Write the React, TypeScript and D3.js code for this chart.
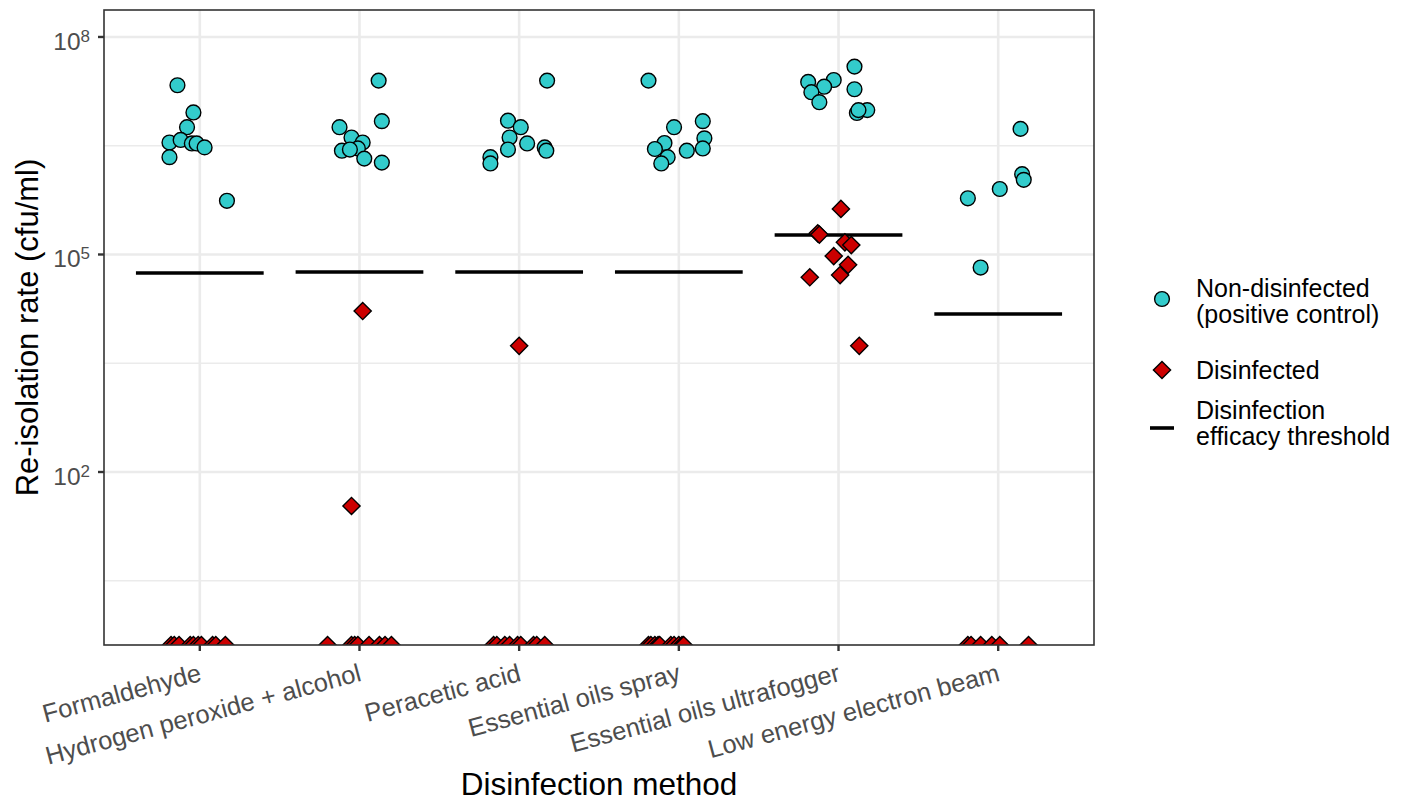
import React from "react";
import * as d3 from "d3";

// categories on the x axis
const methods = [
  "Formaldehyde",
  "Hydrogen peroxide + alcohol",
  "Peracetic acid",
  "Essential oils spray",
  "Essential oils ultrafogger",
  "Low energy electron beam",
];

// non-disinfected (positive control), cfu/ml, one list per method
const controlCfu = [
  [2.16e7, 9.1e6, 5.7e6, 3.5e6, 3.8e6, 3.4e6, 3.4e6, 3.0e6, 2.2e6, 5.5e5],
  [2.5e7, 6.9e6, 5.7e6, 4.1e6, 3.5e6, 2.7e6, 2.9e6, 2.8e6, 2.1e6, 1.85e6],
  [2.5e7, 7.0e6, 5.7e6, 4.1e6, 3.4e6, 2.8e6, 3.0e6, 2.7e6, 2.2e6, 1.8e6],
  [2.5e7, 5.7e6, 6.9e6, 4.0e6, 3.45e6, 2.85e6, 2.7e6, 2.9e6, 2.2e6, 1.8e6],
  [3.9e7, 2.4e7, 2.55e7, 2.06e7, 1.73e7, 1.26e7, 1.9e7, 8.96e6, 9.8e6, 9.8e6],
  [5.4e6, 1.28e6, 1.07e6, 8.0e5, 5.96e5, 6.6e4],
];
// horizontal jitter of the control points, in category units
const controlJitter = [
  [-0.14, -0.04, -0.08, -0.19, -0.12, -0.05, -0.02, 0.03, -0.19, 0.17],
  [0.12, 0.14, -0.125, -0.05, 0.02, -0.11, -0.01, -0.06, 0.03, 0.14],
  [0.175, -0.07, 0.01, -0.06, 0.05, -0.07, 0.16, 0.17, -0.18, -0.18],
  [-0.19, -0.03, 0.15, 0.16, -0.09, -0.15, 0.05, 0.15, -0.07, -0.11],
  [0.1, -0.19, -0.03, -0.09, -0.17, -0.12, 0.1, 0.115, 0.18, 0.125],
  [0.14, 0.15, 0.16, 0.01, -0.19, -0.11],
];

// disinfected samples, cfu/ml (0 = nothing recovered)
const disinfectedCfu = [
  [0, 0, 0, 0, 0, 0, 0, 0, 0, 0],
  [1.66e4, 34, 0, 0, 0, 0, 0, 0, 0, 0],
  [5.5e3, 0, 0, 0, 0, 0, 0, 0, 0, 0],
  [0, 0, 0, 0, 0, 0, 0, 0, 0, 0],
  [4.25e5, 1.96e5, 1.88e5, 1.47e5, 1.35e5, 9.5e4, 7.2e4, 4.85e4, 5.2e4, 5.5e3],
  [0, 0, 0, 0, 0, 0],
];
const disinfectedJitter = [
  [-0.18, -0.16, -0.13, -0.06, -0.04, -0.01, 0.01, 0.08, 0.1, 0.16],
  [0.02, -0.05, -0.2, -0.05, -0.03, -0.01, 0.06, 0.125, 0.16, 0.2],
  [0, -0.16, -0.14, -0.09, -0.06, -0.01, 0.01, 0.09, 0.11, 0.16],
  [-0.19, -0.175, -0.15, -0.13, -0.12, -0.05, -0.03, 0, 0.02, 0.03],
  [0.015, -0.13, -0.12, 0.04, 0.08, -0.03, 0.06, -0.18, 0.01, 0.13],
  [-0.19, -0.17, -0.11, -0.04, 0.01, 0.19],
];

// disinfection efficacy threshold per method, cfu/ml
const thresholds = [5.56e4, 5.74e4, 5.74e4, 5.74e4, 1.86e5, 1.51e4];

const yMajor = [2, 5, 8];
const yMinor = [0.5, 3.5, 6.5];

const W = 1407;
const H = 801;
const M = { left: 104, right: 1094, top: 10, bottom: 645 };
const FONT = "'Liberation Sans', Arial, sans-serif";
const TEAL = "#33CCCC";
const RED = "#CC0000";

const x = d3.scaleLinear().domain([-0.6, methods.length - 0.4]).range([M.left, M.right]);
const y = d3.scaleLog().domain([Math.pow(10, -0.386), Math.pow(10, 8.372)]).range([M.bottom, M.top]);
const yv = (v: number) => (v > 0 ? y(v) : M.bottom); // zeros go to -Inf like ggplot

const diamond = (cx: number, cy: number, r: number) =>
  `M${cx},${cy - r}L${cx + r},${cy}L${cx},${cy + r}L${cx - r},${cy}Z`;

export default function App() {
  const legendX = 1162;
  return (
    <svg
      width={W}
      height={H}
      style={{ position: "absolute", left: 0, top: 0, background: "#fff" }}
      fontFamily={FONT}
    >
      <defs>
        <clipPath id="panel">
          <rect x={M.left} y={M.top} width={M.right - M.left} height={M.bottom - M.top} />
        </clipPath>
      </defs>
      <rect x={M.left} y={M.top} width={M.right - M.left} height={M.bottom - M.top} fill="#fff" />

      {/* grid */}
      {yMinor.map((e) => (
        <line key={"mn" + e} x1={M.left} x2={M.right} y1={y(Math.pow(10, e))} y2={y(Math.pow(10, e))} stroke="#EBEBEB" strokeWidth={1.3} />
      ))}
      {yMajor.map((e) => (
        <line key={"mj" + e} x1={M.left} x2={M.right} y1={y(Math.pow(10, e))} y2={y(Math.pow(10, e))} stroke="#EBEBEB" strokeWidth={2.6} />
      ))}
      {methods.map((m, i) => (
        <line key={"vg" + m} x1={x(i)} x2={x(i)} y1={M.top} y2={M.bottom} stroke="#EBEBEB" strokeWidth={2.6} />
      ))}

      <g clipPath="url(#panel)">
        {thresholds.map((t, i) => (
          <line key={"th" + i} x1={x(i - 0.4)} x2={x(i + 0.4)} y1={y(t)} y2={y(t)} stroke="#000" strokeWidth={3.6} />
        ))}
        {controlCfu.map((vals, i) =>
          vals.map((v, j) => (
            <circle key={`c${i}-${j}`} cx={x(i + controlJitter[i][j])} cy={yv(v)} r={7.4} fill={TEAL} stroke="#000" strokeWidth={1.4} />
          ))
        )}
        {disinfectedCfu.map((vals, i) =>
          vals.map((v, j) => (
            <path key={`d${i}-${j}`} d={diamond(x(i + disinfectedJitter[i][j]), yv(v), 8.6)} fill={RED} stroke="#000" strokeWidth={1.4} strokeLinejoin="miter" />
          ))
        )}
      </g>

      <rect x={M.left} y={M.top} width={M.right - M.left} height={M.bottom - M.top} fill="none" stroke="#333" strokeWidth={1.6} />

      {/* y axis */}
      {yMajor.map((e) => (
        <g key={"yt" + e}>
          <line x1={M.left - 6} x2={M.left} y1={y(Math.pow(10, e))} y2={y(Math.pow(10, e))} stroke="#333" strokeWidth={2.4} />
          <text x={90} y={y(Math.pow(10, e)) + 13} textAnchor="end" fontSize={24.5} fill="#4D4D4D">
            10
            <tspan dy={-8} fontSize={17}>{e}</tspan>
          </text>
        </g>
      ))}
      <text transform={`translate(37.5,${(M.top + M.bottom) / 2}) rotate(-90)`} textAnchor="middle" fontSize={31} fill="#000">
        Re-isolation rate (cfu/ml)
      </text>

      {/* x axis */}
      {methods.map((m, i) => (
        <g key={"xt" + m}>
          <line x1={x(i)} x2={x(i)} y1={M.bottom} y2={M.bottom + 6} stroke="#333" strokeWidth={2.4} />
          <text transform={`translate(${x(i) - 2},${M.bottom + 17}) rotate(-15)`} dy="0.75em" textAnchor="end" fontSize={25.5} fill="#4D4D4D">
            {m}
          </text>
        </g>
      ))}
      <text x={(M.left + M.right) / 2} y={794.5} textAnchor="middle" fontSize={31.5} fill="#000">
        Disinfection method
      </text>

      {/* legend */}
      <circle cx={legendX} cy={299} r={7.4} fill={TEAL} stroke="#000" strokeWidth={1.4} />
      <text x={1196} y={297} fontSize={25} fill="#000">
        Non-disinfected
        <tspan x={1196} dy={26}>(positive control)</tspan>
      </text>
      <path d={diamond(legendX, 370, 8.6)} fill={RED} stroke="#000" strokeWidth={1.4} />
      <text x={1196} y={378.5} fontSize={25} fill="#000">Disinfected</text>
      <line x1={legendX - 12} x2={legendX + 12} y1={428} y2={428} stroke="#000" strokeWidth={3.6} />
      <text x={1196} y={418.5} fontSize={25} fill="#000">
        Disinfection
        <tspan x={1196} dy={26}>efficacy threshold</tspan>
      </text>
    </svg>
  );
}
